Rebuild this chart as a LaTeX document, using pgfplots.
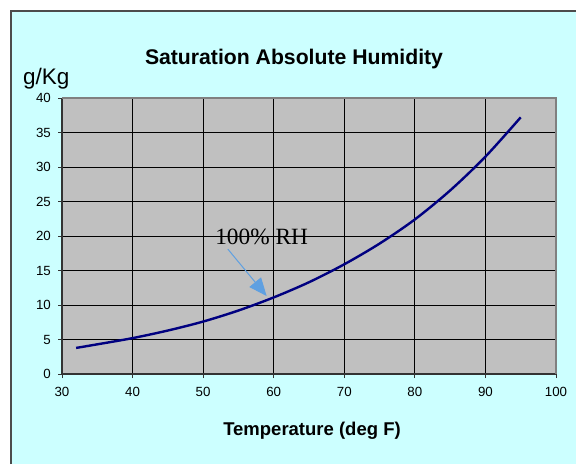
\documentclass[border=0pt]{standalone}
\usepackage{fontspec}
\setmainfont{Liberation Sans}
\newfontfamily\serifrm{Liberation Serif}
\usepackage{pgfplots}
\pgfplotsset{compat=1.18}
\usetikzlibrary{arrows.meta}
\definecolor{bgcyan}{RGB}{204,255,255}
\definecolor{plotgray}{RGB}{192,192,192}
\definecolor{navyline}{RGB}{0,0,128}
\definecolor{arrowblue}{RGB}{95,160,225}
\begin{document}
\begin{tikzpicture}[x=1pt,y=1pt]
\useasboundingbox (0,0) rectangle (576,464);
\fill[white] (0,0) rectangle (576,464);
\fill[bgcyan] (11,0) rectangle (576,453);
\draw[black!70,line width=1.2pt] (11,0) -- (11,453) -- (576,453);
\begin{axis}[
  at={(62pt,90pt)}, anchor=south west,
  scale only axis, width=494pt, height=276pt,
  xmin=30, xmax=100, ymin=0, ymax=40,
  xtick={30,40,...,100}, ytick={0,5,...,40},
  axis background/.style={fill=plotgray},
  axis line style={draw=none},
  grid=major, major grid style={black, line width=0.8pt},
  tick pos=left, tick align=outside, major tick length=4pt,
  tick style={black!80, line width=0.8pt},
  ticklabel style={font=\fontsize{13.3}{16}\selectfont, inner sep=2pt},
  xticklabel style={yshift=-7pt},
  yticklabel style={xshift=-5pt},
  /pgf/number format/assume math mode=true,
  clip=false,
]
\addplot[navyline, line width=2.4pt, smooth] coordinates {
  (32,3.78) (35,4.3) (40,5.2) (45,6.3) (50,7.6) (55,9.2) (60,11.1)
  (65,13.3) (70,15.9) (75,18.9) (80,22.4) (85,26.6) (90,31.5) (95,37.2)
};
\draw[black!80, line width=2pt] (rel axis cs:0,1) -- (rel axis cs:0,0) -- (rel axis cs:1,0);
\draw[gray, line width=2pt] (rel axis cs:0,1) -- (rel axis cs:1,1) -- (rel axis cs:1,0);
\node[anchor=base west, inner sep=0pt, font=\serifrm\fontsize{23.3}{26}\selectfont] at (axis cs:51.7,18.7) {100\% RH};
\draw[arrowblue, line width=1pt, -{Triangle[width=15pt,length=18pt]}] (axis cs:53.5,18.1) -- (axis cs:59.0,11.3);
\end{axis}
\node[anchor=base, inner sep=0pt, font=\bfseries\fontsize{21.2}{25}\selectfont] at (294,399) {Saturation Absolute Humidity};
\node[anchor=base west, inner sep=0pt, font=\fontsize{22.5}{26}\selectfont] at (23,379) {g/Kg};
\node[anchor=base, inner sep=0pt, font=\bfseries\fontsize{18.5}{22}\selectfont] at (312,29) {Temperature (deg F)};
\end{tikzpicture}
\end{document}
